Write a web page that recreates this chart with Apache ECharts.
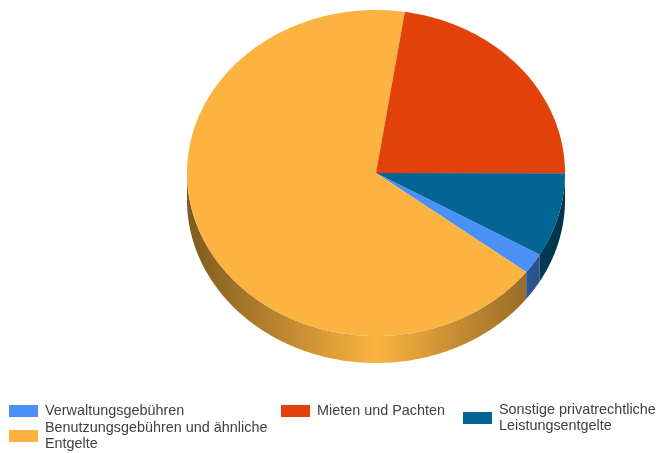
<!DOCTYPE html>
<html>
<head>
<meta charset="utf-8">
<style>
  html, body { margin: 0; padding: 0; background: #fff; }
  #chart { width: 658px; height: 453px; }
</style>
<script src="https://cdn.jsdelivr.net/npm/echarts@6/dist/echarts.min.js"></script>
</head>
<body>
<div id="chart"></div>
<script>
const categories = [
  'Verwaltungsgebühren',
  'Benutzungsgebühren und ähnliche\nEntgelte',
  'Mieten und Pachten',
  'Sonstige privatrechtliche\nLeistungsentgelte'
];
const values = [2.05, 67.05, 22.6, 8.3];
const colors = ['#4a90f5', '#fcb340', '#e24209', '#036596'];

const startAngle = 30;
const cx = 376;
const cy = 173;
const rx = 189;
const ry = 163;
const depth = 27;

const total = values.reduce((a, b) => a + b, 0);
const shade = (hex, f) => {
  const n = parseInt(hex.slice(1), 16);
  const c = [n >> 16, (n >> 8) & 255, n & 255].map(v => Math.round(v * f));
  return `rgb(${c.join(',')})`;
};
const rimPoint = (deg, dy) => {
  const a = (deg * Math.PI) / 180;
  return [cx + rx * Math.cos(a), cy + dy + ry * Math.sin(a)];
};
const arc = (from, to, dy) => {
  const pts = [];
  const steps = Math.max(2, Math.ceil((to - from) * 2));
  for (let i = 0; i <= steps; i++) {
    pts.push(rimPoint(from + ((to - from) * i) / steps, dy));
  }
  return pts;
};

// the visible wall is only the front half of the rim (0..180 deg, also after one turn)
const wallParts = (from, to) =>
  [[0, 180], [360, 540]]
    .map(([a, b]) => [Math.max(from, a), Math.min(to, b)])
    .filter(([a, b]) => b > a);

const renderSlice = idx => () => {
  const before = values.slice(0, idx).reduce((a, b) => a + b, 0);
  const from = startAngle + (before / total) * 360;
  const to = from + (values[idx] / total) * 360;
  const wallFill = new echarts.graphic.LinearGradient(
    cx - rx, 0, cx + rx, 0,
    [
      { offset: 0, color: shade(colors[idx], 0.5) },
      { offset: 0.5, color: shade(colors[idx], 1) },
      { offset: 1, color: shade(colors[idx], 0.5) }
    ],
    true
  );
  const walls = wallParts(from, to).map(([a, b]) => ({
    type: 'polygon',
    shape: { points: arc(a, b, 0).concat(arc(a, b, depth).reverse()) },
    style: { fill: wallFill }
  }));
  return {
    type: 'group',
    children: walls.concat({
      type: 'polygon',
      shape: { points: [[cx, cy]].concat(arc(from, to, 0)) },
      style: { fill: colors[idx] }
    })
  };
};

const legendAt = (name, left, top) => ({
  data: [name],
  left,
  top,
  padding: 0,
  icon: 'rect',
  itemWidth: 29,
  itemHeight: 12,
  itemGap: 0,
  selectedMode: false,
  textStyle: {
    color: '#404040',
    fontFamily: 'Liberation Sans',
    fontSize: 14.4,
    lineHeight: 16,
    padding: [0, 0, 0, 2]
  }
});

const chart = echarts.init(document.getElementById('chart'));
chart.setOption({
  animation: false,
  backgroundColor: '#fff',
  tooltip: { show: false },
  legend: [
    legendAt(categories[0], 9, 403),
    legendAt(categories[1], 9, 420),
    legendAt(categories[2], 281, 403),
    legendAt(categories[3], 463, 402)
  ],
  series: categories.map((name, i) => ({
    name,
    type: 'custom',
    coordinateSystem: 'none',
    itemStyle: { color: colors[i] },
    data: [[values[i]]],
    renderItem: renderSlice(i)
  }))
});
</script>
</body>
</html>
